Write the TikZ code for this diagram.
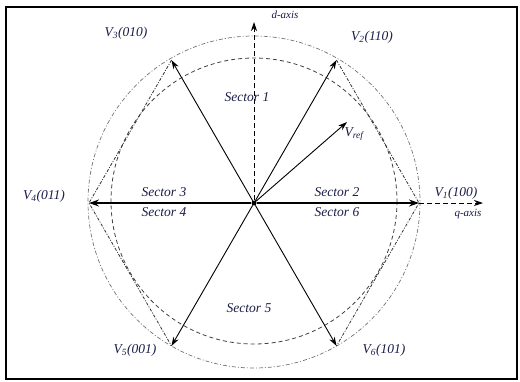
\documentclass[tikz,border=0pt]{standalone}
\usepackage{fontspec}
\setmainfont{Liberation Serif}
\usetikzlibrary{arrows.meta}
\definecolor{lbl}{RGB}{25,28,70}
\begin{document}
\begin{tikzpicture}[x=1pt,y=-1pt,
  vec/.style={line width=0.9pt, -{Stealth[length=9pt,width=6pt]}},
  hvec/.style={line width=1.4pt, -{Stealth[length=10pt,width=7pt]}},
  axisln/.style={line width=0.9pt, dash pattern=on 5pt off 3pt, -{Stealth[length=9pt,width=6pt]}},
  hexedge/.style={line width=0.8pt, dash pattern=on 3pt off 1.5pt on 1pt off 1.5pt, black!80},
  outercirc/.style={line width=0.7pt, dash pattern=on 4pt off 2pt on 1pt off 2pt, black!55},
  innercirc/.style={line width=0.8pt, dash pattern=on 4pt off 3pt, black!75},
  lab/.style={font=\fontsize{13.5}{14}\selectfont\itshape, text=lbl, inner sep=0pt},
  small lab/.style={font=\fontsize{11}{12}\selectfont\itshape, text=lbl, inner sep=0pt},
  dot/.style={circle, fill=black, inner sep=0pt, minimum size=5pt},
  ]
\useasboundingbox (0,0) rectangle (520,381);
\draw[line width=2pt] (6,7) rectangle (517,379);

% circles
\draw[outercirc] (254,202) circle (166);
\draw[innercirc] (254,201) circle (143);

% vertices
\node[dot] (O) at (254,203) {};
\coordinate (V1) at (419,203);
\coordinate (V2) at (336.5,60.1);
\coordinate (V3) at (171.5,60.1);
\coordinate (V4) at (89,203);
\coordinate (V5) at (171.5,345.9);
\coordinate (V6) at (336.5,345.9);
\coordinate (Dtip) at (254,22);
\coordinate (Qtip) at (483,203);
\coordinate (Vr) at (347,122);

% hexagon side edges
\draw[hexedge] (V2) -- (V1) -- (V6);
\draw[hexedge] (V3) -- (V4) -- (V5);

% axes
\draw[axisln] (O) -- (Dtip);
\draw[axisln] (V1) -- (Qtip);

% vectors
\draw[hvec] (O) -- (V1);
\draw[hvec] (O) -- (V4);
\draw[vec] (O) -- (V2);
\draw[vec] (O) -- (V3);
\draw[vec] (O) -- (V5);
\draw[vec] (O) -- (V6);
\draw[vec] (O) -- (Vr);

% labels
\node[lab] (l3) at (126,33) {V\textsubscript{3}(010)};
\node[lab] (l2) at (372,37) {V\textsubscript{2}(110)};
\node[lab] (l4) at (44,196) {V\textsubscript{4}(011)};
\node[lab] (l1) at (456,193) {V\textsubscript{1}(100)};
\node[lab] (l5) at (135,350) {V\textsubscript{5}(001)};
\node[lab] (l6) at (384,350) {V\textsubscript{6}(101)};
\node[lab] (lr) at (354,134) {V\textsubscript{ref}};
\node[small lab] (ld) at (285,15) {d-axis};
\node[small lab] (lq) at (468,214) {q-axis};
\node[lab] (s1) at (247,97) {Sector 1};
\node[lab] (s2) at (337,192) {Sector 2};
\node[lab] (s3) at (164,192) {Sector 3};
\node[lab] (s4) at (164,212) {Sector 4};
\node[lab] (s5) at (249,308) {Sector 5};
\node[lab] (s6) at (337,212) {Sector 6};
\end{tikzpicture}
\end{document}
